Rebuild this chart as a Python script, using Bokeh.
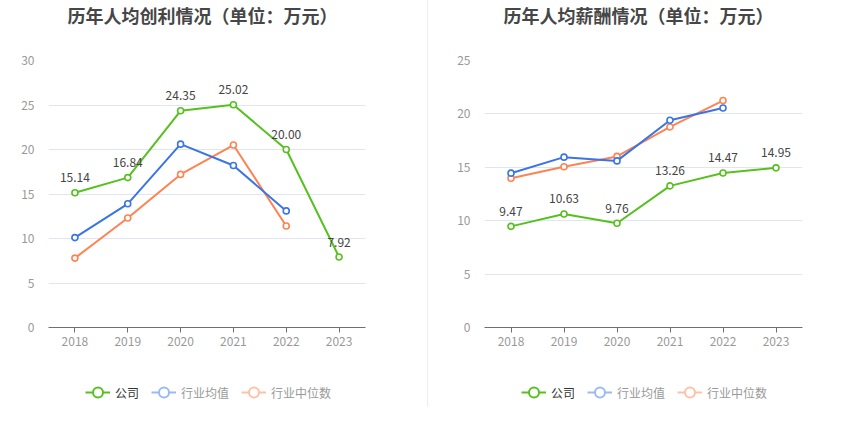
from bokeh.plotting import figure
from bokeh.models import (ColumnDataSource, FixedTicker, Legend, LegendItem,
                          Range1d, Div, Label)
from bokeh.layouts import row, column
from bokeh.embed import file_html
from bokeh.resources import INLINE
from bokeh.core.properties import value

years = ["2018", "2019", "2020", "2021", "2022", "2023"]

profit_company = [15.14, 16.84, 24.35, 25.02, 20.00, 7.92]
profit_avg = [10.1, 13.9, 20.6, 18.2, 13.1]
profit_median = [7.8, 12.3, 17.2, 20.5, 11.4]

salary_company = [9.47, 10.63, 9.76, 13.26, 14.47, 14.95]
salary_avg = [14.45, 15.95, 15.6, 19.4, 20.55]
salary_median = [13.98, 15.05, 16.02, 18.78, 21.25]

legend_names = ["公司", "行业均值", "行业中位数"]

GREEN = "#56C11E"
BLUE = "#3A74E6"
ORANGE = "#FF8352"
LBLUE = "#9BB9F4"
LORANGE = "#FFC1A8"
FONT = "Noto Sans CJK SC"


def strip(width, height, bl, br):
    q = figure(width=width, height=height, output_backend="svg", toolbar_location=None,
               min_border_left=bl, min_border_right=br, min_border_top=0,
               min_border_bottom=0, x_range=Range1d(0, width - bl - br),
               y_range=Range1d(0, height))
    q.axis.visible = False
    q.grid.visible = False
    q.outline_line_color = None
    return q


def make_chart(title, company, avg, median, ymax, width, bl, br):
    t = strip(width, 50, bl, br)
    t.add_layout(Label(x=154, y=36, text=title, text_align="center",
                       text_baseline="middle", text_font_size="18px",
                       text_font_style="bold", text_color="#464646", text_font=FONT))

    p = figure(width=width, height=320, output_backend="svg", toolbar_location=None,
               min_border_left=bl, min_border_right=br, min_border_top=10,
               min_border_bottom=43, x_range=Range1d(-0.5, 5.5),
               y_range=Range1d(0, ymax))
    p.outline_line_color = None
    p.background_fill_color = "white"
    p.border_fill_color = "white"

    p.xgrid.grid_line_color = None
    p.ygrid.grid_line_color = "#E0E6F1"
    p.ygrid.ticker = FixedTicker(ticks=list(range(0, ymax + 1, 5)))

    p.xaxis.ticker = FixedTicker(ticks=list(range(len(years))))
    p.xaxis.major_label_overrides = {i: y for i, y in enumerate(years)}
    p.xaxis.axis_line_color = "#6E7079"
    p.xaxis.major_tick_line_color = "#6E7079"
    p.xaxis.major_tick_out = 5
    p.xaxis.major_tick_in = 0
    p.xaxis.minor_tick_line_color = None
    p.xaxis.major_label_standoff = 4
    p.xaxis.major_label_text_color = "#999999"
    p.xaxis.major_label_text_font_size = "12px"
    p.xaxis.major_label_text_font = FONT

    p.yaxis.ticker = FixedTicker(ticks=list(range(0, ymax + 1, 5)))
    p.yaxis.axis_line_color = None
    p.yaxis.major_tick_line_color = None
    p.yaxis.minor_tick_line_color = None
    p.yaxis.major_label_standoff = 8
    p.yaxis.major_label_text_color = "#999999"
    p.yaxis.major_label_text_font_size = "12px"
    p.yaxis.major_label_text_font = FONT

    xs_c = list(range(len(company)))
    xs_i = list(range(len(avg)))

    for xs, ys, col in [(xs_i, median, ORANGE), (xs_i, avg, BLUE), (xs_c, company, GREEN)]:
        src = ColumnDataSource(dict(x=xs, y=ys))
        p.line("x", "y", source=src, line_color=col, line_width=2)
        p.scatter("x", "y", source=src, size=6, marker="circle", fill_color="white",
                  line_color=col, line_width=1.6)

    lab_src = ColumnDataSource(dict(x=xs_c, y=company, t=["%.2f" % v for v in company]))
    p.text("x", "y", text="t", source=lab_src, text_align="center",
           text_baseline="middle", y_offset=-15, text_font_size="12px",
           text_color="#444444", text_font=value(FONT))

    q = strip(width, 50, bl, br)

    def dummy(col):
        r1 = q.line(x=[-100, -90], y=[-100, -100], line_color=col, line_width=2)
        r2 = q.scatter(x=[-100], y=[-100], marker="circle", size=10, fill_color="white",
                       line_color=col, line_width=2)
        return [r1, r2]

    lg_a = Legend(items=[LegendItem(label=legend_names[0], renderers=dummy(GREEN))],
                  location=(37, 14), orientation="horizontal")
    lg_b = Legend(items=[LegendItem(label=legend_names[1], renderers=dummy(LBLUE)),
                         LegendItem(label=legend_names[2], renderers=dummy(LORANGE))],
                  location=(103, 14), orientation="horizontal")
    for lg, tc in [(lg_a, "#333333"), (lg_b, "#999999")]:
        lg.glyph_width = 25
        lg.glyph_height = 28
        lg.label_height = 28
        lg.label_standoff = 5
        lg.spacing = 12
        lg.padding = 0
        lg.margin = 0
        lg.border_line_color = None
        lg.background_fill_alpha = 0
        lg.label_text_font_size = "12px"
        lg.label_text_font = FONT
        lg.label_text_color = tc
        lg.label_text_baseline = "middle"
        q.add_layout(lg, "center")
    return column(t, p, q)


c1 = make_chart("历年人均创利情况（单位：万元）", profit_company, profit_avg, profit_median,
                30, 427, 48, 62)
c2 = make_chart("历年人均薪酬情况（单位：万元）", salary_company, salary_avg, salary_median,
                25, 422, 56, 48)
sep = Div(width=1, height=407, margin=0, styles={"background-color": "#EEEEEE"})
layout = row(c1, sep, c2)

open("out.html", "w").write(file_html(layout, INLINE))
